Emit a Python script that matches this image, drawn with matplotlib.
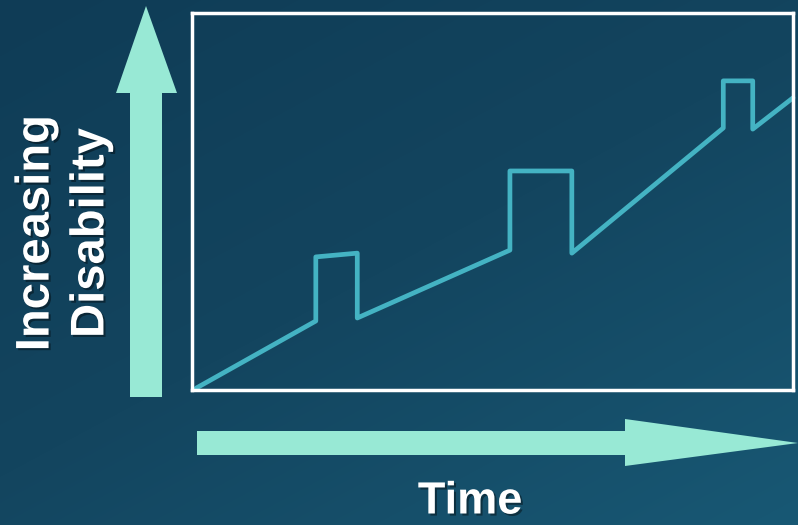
import matplotlib
matplotlib.use("Agg")
import matplotlib.pyplot as plt
import matplotlib.patheffects as pe
import numpy as np
from matplotlib.colors import LinearSegmentedColormap

plt.rcParams['font.family'] = ['Liberation Sans', 'DejaVu Sans']

# disability over time (axes units, 0-100)
time = [0.7, 20.6, 20.6, 27.5, 27.5, 52.9, 52.9, 63.2, 63.2, 88.4, 88.4, 93.3, 93.3, 100]
disability = [0.5, 18.3, 35.3, 36.3, 19.1, 37.1, 58.1, 58.1, 36.3, 69.5, 82.0, 82.0, 69.2, 77.5]

ylabel = "Increasing\nDisability"
xlabel = "Time"

W, H = 798, 525
fig = plt.figure(figsize=(W / 100, H / 100), dpi=100)

# background gradient
bg = fig.add_axes([0, 0, 1, 1])
yy, xx = np.mgrid[0:H, 0:W]
t = 0.45 * xx / W + 0.55 * yy / H
cmap = LinearSegmentedColormap.from_list('bg', ['#0f3c56', '#13455f', '#185874'])
bg.imshow(t, cmap=cmap, extent=[0, W, H, 0], aspect='auto', interpolation='bilinear')
bg.set_xlim(0, W)
bg.set_ylim(H, 0)
bg.axis('off')

mint = '#98e9d5'
# vertical arrow
bg.fill([130, 162, 162, 177, 146, 116, 130], [397, 397, 93, 93, 6, 93, 93], color=mint, lw=0)
# horizontal arrow
bg.fill([197, 625, 625, 798, 625, 625, 197], [431, 431, 419, 443, 466, 455, 455], color=mint, lw=0)

shadow = [pe.withSimplePatchShadow(offset=(1.5, -1.5), shadow_rgbFace='black', alpha=0.4)]
bg.text(64, 233, ylabel, rotation=90, ha='center', va='center', color='white',
        fontsize=34, fontweight='bold', linespacing=1.32, path_effects=shadow)
bg.text(470, 502, xlabel, ha='center', va='center', color='white',
        fontsize=32.5, fontweight='bold', path_effects=shadow)

# plot box
ax = fig.add_axes([192 / W, (H - 390) / H, 601 / W, 377 / H])
ax.set_facecolor('none')
ax.plot(time, disability, color='#44b3c3', lw=3.4, solid_joinstyle='round',
        solid_capstyle='round', clip_on=False)
ax.set_xlim(0, 100)
ax.set_ylim(0, 100)
ax.set_xticks([])
ax.set_yticks([])
for s in ax.spines.values():
    s.set_color('white')
    s.set_linewidth(2.5)

fig.savefig('out.png', dpi=100)
